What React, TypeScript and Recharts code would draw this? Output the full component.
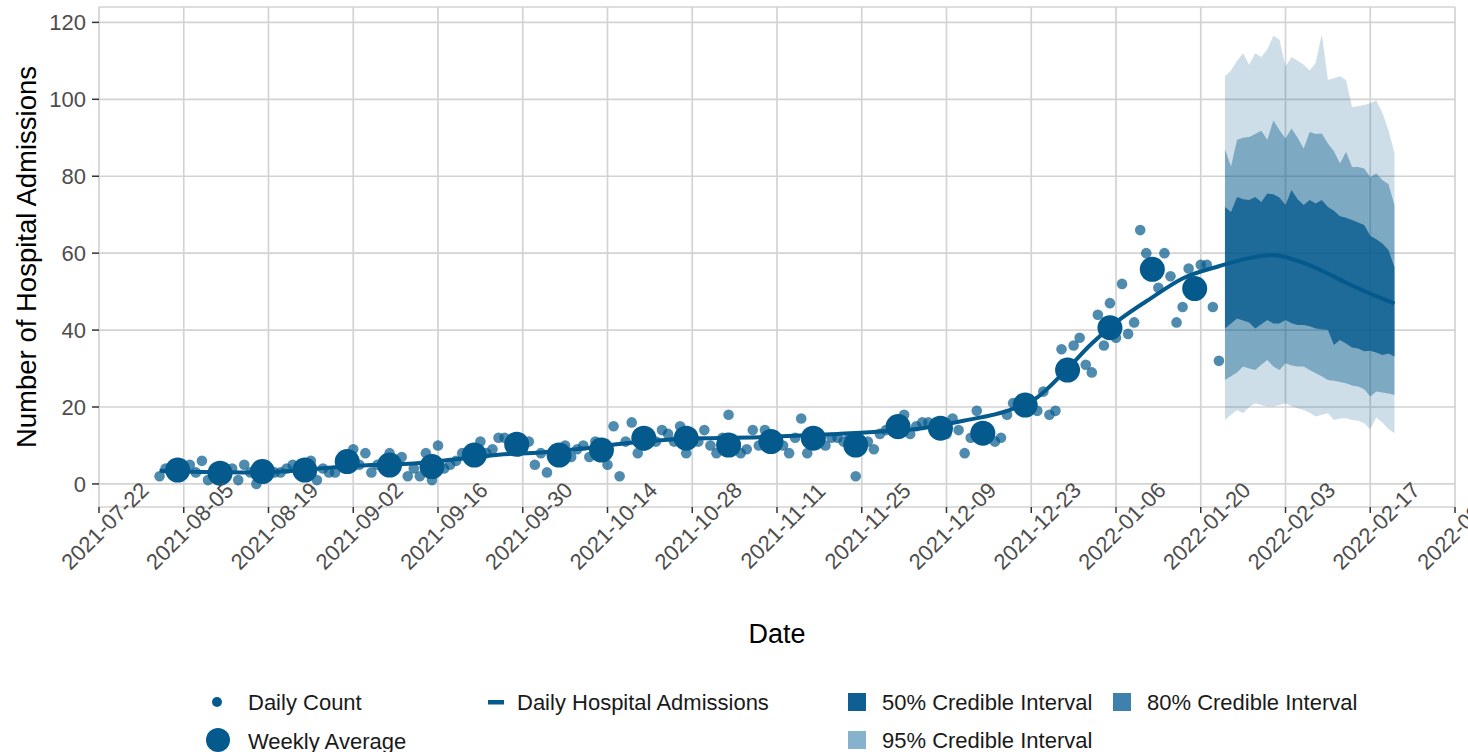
import React from 'react';
import { ComposedChart, Area, Line, Scatter, CartesianGrid, XAxis, YAxis } from 'recharts';

const FONT = '"Liberation Sans", Arial, sans-serif';
const BLUE = '#045a8d';

const tickDates = [
  '2021-07-22', '2021-08-05', '2021-08-19', '2021-09-02', '2021-09-16', '2021-09-30',
  '2021-10-14', '2021-10-28', '2021-11-11', '2021-11-25', '2021-12-09', '2021-12-23',
  '2022-01-06', '2022-01-20', '2022-02-03', '2022-02-17', '2022-03-03',
];
const yTicks = [0, 20, 40, 60, 80, 100, 120];

// daily counts, one per day from dailyStart
const dailyStart = '2021-08-01';
const dailyCounts = [
  2, 4, 3, 4, 3, 5, 3, 6, 1, 3, 2, 3, 4, 1, 5, 3, 0, 3, 4, 3,
  3, 4, 5, 3, 4, 6, 1, 4, 3, 3, 5, 6, 9, 5, 8, 3, 5, 4, 8, 5,
  7, 2, 4, 2, 8, 1, 10, 4, 5, 6, 8, 7, 9, 11, 8, 9, 12, 12, 10, 11,
  9, 11, 5, 8, 3, 8, 7, 10, 7, 9, 10, 7, 11, 10, 5, 15, 2, 11, 16, 8,
  10, 12, 11, 14, 13, 11, 15, 8, 12, 11, 14, 10, 8, 12, 18, 11, 8, 9, 14, 10,
  14, 11, 12, 10, 8, 12, 17, 8, 12, 11, 10, 12, 12, 11, 12, 2, 10, 11, 9, 13,
  14, 15, 13, 18, 13, 15, 16, 16, 14, 15, 13, 17, 14, 8, 12, 19, 14, 13, 11, 12,
  18, 21, 20, 22, 21, 19, 24, 18, 19, 35, 30, 36, 38, 31, 29, 44, 36, 47, 38, 52,
  39, 42, 66, 60, 55, 51, 60, 54, 42, 46, 56, 52, 57, 57, 46, 32,
];

const weeklyDates = [
  '2021-08-04', '2021-08-11', '2021-08-18', '2021-08-25', '2021-09-01', '2021-09-08',
  '2021-09-15', '2021-09-22', '2021-09-29', '2021-10-06', '2021-10-13', '2021-10-20',
  '2021-10-27', '2021-11-03', '2021-11-10', '2021-11-17', '2021-11-24', '2021-12-01',
  '2021-12-08', '2021-12-15', '2021-12-22', '2021-12-29', '2022-01-05', '2022-01-12',
  '2022-01-19',
];
const weeklyAvg = [
  3.6, 2.8, 3.2, 3.6, 5.8, 4.9, 4.5, 7.5, 10.3, 7.5, 8.8, 11.9, 11.9, 10.1, 11.0,
  11.9, 10.1, 14.9, 14.5, 13.2, 20.5, 29.6, 40.6, 55.8, 50.8,
];

const lineDates = [
  '2021-08-01', '2021-08-08', '2021-08-15', '2021-08-22', '2021-08-29', '2021-09-05',
  '2021-09-12', '2021-09-19', '2021-09-26', '2021-10-03', '2021-10-10', '2021-10-17',
  '2021-10-24', '2021-10-31', '2021-11-07', '2021-11-14', '2021-11-21', '2021-11-28',
  '2021-12-05', '2021-12-12', '2021-12-19', '2021-12-24', '2021-12-29', '2022-01-02',
  '2022-01-06', '2022-01-12', '2022-01-17', '2022-01-23', '2022-01-28', '2022-02-01',
  '2022-02-05', '2022-02-09', '2022-02-13', '2022-02-17', '2022-02-21',
];
const lineValues = [
  3.4, 3.1, 3.0, 3.3, 4.2, 4.9, 5.3, 6.4, 7.6, 8.2, 9.2, 10.6, 11.5, 11.9, 12.1,
  12.5, 13.0, 13.6, 14.5, 16.5, 19.0, 22.5, 30.0, 36.5, 42.0, 48.5, 53.4, 56.6,
  58.7, 59.5, 58.0, 55.5, 52.3, 49.5, 46.9,
];

// forecast credible intervals, one per day from bandStart
const bandStart = '2022-01-24';
const lower95 = [
  16.6, 18, 19.2, 18.4, 20, 21, 20.5, 20.1, 20.1, 20.5, 21, 20.2, 19.7, 19.2, 18.5,
  17.5, 18, 18.4, 16.6, 17, 17.1, 16.6, 16.4, 15.8, 14.2, 17.3, 16, 14.3, 13.2,
];
const upper95 = [
  106, 107.5, 110, 112, 109, 112, 111, 113, 116.5, 115.5, 108.5, 111, 110, 109, 107.5,
  109.5, 117, 105, 105.5, 106, 105, 98, 98.2, 98.5, 99, 99.7, 96.5, 92, 86,
];
const lower80 = [
  27, 28, 29, 30.5, 30, 29.6, 31, 32.2, 30.5, 29.6, 31.4, 30.8, 30.5, 30.5, 29.6,
  28.8, 28, 27, 26.8, 26.5, 26.2, 25.6, 25.3, 24.6, 22.7, 24, 23.8, 23.5, 23.1,
];
const upper80 = [
  87, 82.5, 89.5, 90, 90.2, 91, 91.8, 89.5, 94.5, 92, 89.8, 92.4, 90, 87.2, 91.5,
  91, 91.1, 88.5, 86.5, 83.3, 86.3, 82.4, 82.4, 82, 79.8, 80.7, 79, 78, 72.5,
];
const lower50 = [
  40.4, 41.7, 43, 42.5, 42, 40.4, 41.5, 42.6, 41.7, 41.7, 42.6, 41.8, 41.3, 41.3, 41,
  40.4, 40.2, 40, 36.1, 37.4, 36.5, 35.5, 35.2, 34.5, 34.6, 34.2, 33.5, 33.9, 33.1,
];
const upper50 = [
  72, 70.7, 74.6, 74, 73.8, 74.6, 73.3, 75.5, 75.3, 74.5, 72.5, 76.4, 74, 72.5, 73.8,
  72.9, 73.8, 72, 71, 69.6, 69.2, 68.6, 68, 67.3, 64.5, 63.6, 62.5, 60.8, 56.4,
];

const ORIGIN = Date.UTC(2021, 6, 22);
const dayOf = (s: string) => Math.round((Date.parse(s) - ORIGIN) / 86400000);
const dateOf = (d: number) => new Date(ORIGIN + d * 86400000).toISOString().slice(0, 10);

const dailyData = dailyCounts.map((v, i) => ({ day: dayOf(dailyStart) + i, value: v }));
const weeklyData = weeklyDates.map((d, i) => ({ day: dayOf(d), value: weeklyAvg[i] }));
const lineData = lineDates.map((d, i) => ({ day: dayOf(d), value: lineValues[i] }));
const bandData = lower95.map((_, i) => ({
  day: dayOf(bandStart) + i,
  b95: [lower95[i], upper95[i]],
  b80: [lower80[i], upper80[i]],
  b50: [lower50[i], upper50[i]],
}));

const DateTick = (props: any) => {
  const { x, y, payload } = props;
  const cx = x + 6;
  const cy = y + 11;
  return (
    <text
      x={cx}
      y={cy}
      textAnchor="middle"
      dominantBaseline="central"
      transform={`rotate(-45 ${cx} ${cy})`}
      fontSize={22}
      fill="#4d4d4d"
      fontFamily={FONT}
    >
      {dateOf(payload.value)}
    </text>
  );
};

const Legend = () => (
  <svg width={1468} height={752} style={{ position: 'absolute', left: 0, top: 0, pointerEvents: 'none' }}>
    <g fontFamily={FONT} fontSize={22} fill="#1a1a1a" dominantBaseline="central">
      <circle cx={217} cy={702} r={5} fill={BLUE} />
      <text x={248} y={702}>Daily Count</text>
      <circle cx={218} cy={740} r={12} fill={BLUE} />
      <text x={248} y={741}>Weekly Average</text>
      <rect x={488} y={700} width={16} height={4.5} fill={BLUE} />
      <text x={517} y={702}>Daily Hospital Admissions</text>
      <rect x={848} y={693} width={18} height={18} fill="#0f5f92" />
      <text x={882} y={702}>50% Credible Interval</text>
      <rect x={1113} y={693} width={18} height={18} fill="#3f81ac" />
      <text x={1147} y={702}>80% Credible Interval</text>
      <rect x={848} y={731} width={18} height={18} fill="#86b2ce" />
      <text x={882} y={740}>95% Credible Interval</text>
    </g>
  </svg>
);

export default function App() {
  return (
    <div style={{ position: 'absolute', left: 0, top: 0, width: 1468, height: 752, background: '#fff', overflow: 'hidden' }}>
      <ComposedChart width={1468} height={660} margin={{ top: 7, right: 13, left: 0, bottom: 0 }} style={{ fontFamily: FONT }}>
        <CartesianGrid stroke="#d3d3d3" strokeWidth={1.7} />
        <XAxis
          type="number"
          dataKey="day"
          domain={[0, 224]}
          ticks={tickDates.map(dayOf)}
          interval={0}
          allowDataOverflow
          axisLine={false}
          tickLine={{ stroke: '#333', strokeWidth: 1.5 }}
          tickSize={6}
          height={153}
          tick={<DateTick />}
          label={{
            content: () => (
              <text x={777} y={634} textAnchor="middle" dominantBaseline="central" fontSize={27} fill="#000" fontFamily={FONT}>
                Date
              </text>
            ),
          }}
        />
        <YAxis
          type="number"
          domain={[-6, 124]}
          ticks={yTicks}
          allowDataOverflow
          axisLine={false}
          tickLine={{ stroke: '#333', strokeWidth: 1.5 }}
          tickSize={7}
          tickMargin={6}
          width={99}
          tick={{ fontSize: 22, fill: '#4d4d4d', fontFamily: FONT }}
          label={{
            content: () => (
              <text
                x={26}
                y={257}
                transform="rotate(-90 26 257)"
                textAnchor="middle"
                dominantBaseline="central"
                fontSize={27.5}
                fill="#000"
                fontFamily={FONT}
              >
                Number of Hospital Admissions
              </text>
            ),
          }}
        />
        <Area data={bandData} dataKey="b95" type="linear" stroke="none" fill={BLUE} fillOpacity={0.2} isAnimationActive={false} />
        <Area data={bandData} dataKey="b80" type="linear" stroke="none" fill={BLUE} fillOpacity={0.4} isAnimationActive={false} />
        <Area data={bandData} dataKey="b50" type="linear" stroke="none" fill={BLUE} fillOpacity={0.78} isAnimationActive={false} />
        <Scatter
          data={dailyData}
          dataKey="value"
          isAnimationActive={false}
          shape={(p: any) => <circle cx={p.cx} cy={p.cy} r={5.3} fill={BLUE} fillOpacity={0.7} />}
        />
        <Scatter
          data={weeklyData}
          dataKey="value"
          isAnimationActive={false}
          shape={(p: any) => <circle cx={p.cx} cy={p.cy} r={12.5} fill={BLUE} />}
        />
        <Line data={lineData} dataKey="value" type="monotone" stroke={BLUE} strokeWidth={4} dot={false} activeDot={false} isAnimationActive={false} />
      </ComposedChart>
      <Legend />
    </div>
  );
}
